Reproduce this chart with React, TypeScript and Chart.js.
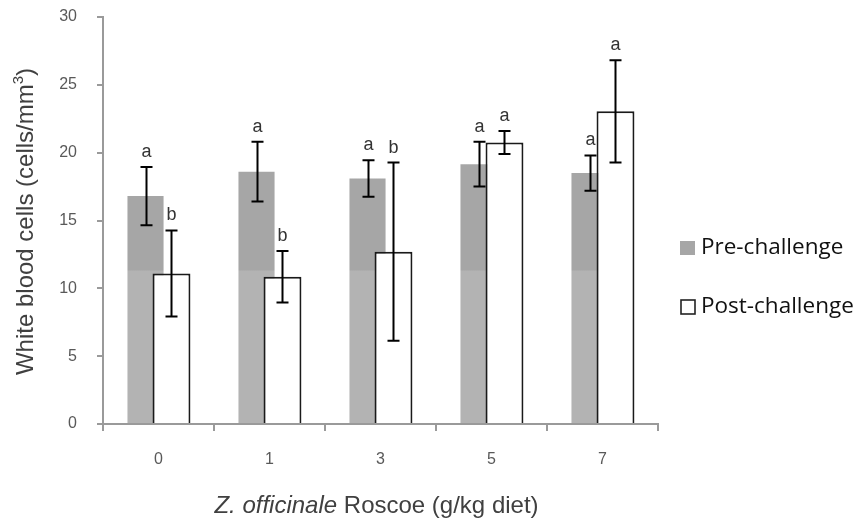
import React, { useEffect, useRef } from "react";
import { Chart, registerables } from "chart.js";

Chart.register(...registerables);

// ---- data ----
const categories = ["0", "1", "3", "5", "7"];
const seriesNames = ["Pre-challenge", "Post-challenge"];
const preValues = [16.8, 18.6, 18.1, 19.15, 18.5];
const preErrors = [2.15, 2.2, 1.35, 1.65, 1.3];
const postValues = [11.1, 10.85, 12.7, 20.75, 23.05];
const postErrors = [3.17, 1.9, 6.57, 0.85, 3.77];
const preLetters = ["a", "a", "a", "a", "a"];
const postLetters = ["b", "b", "b", "a", "a"];
const yTicks = [0, 5, 10, 15, 20, 25, 30];
const xTitleItalic = "Z. officinale";
const xTitleRest = " Roscoe (g/kg diet)";
const yTitleMain = "White blood cells (cells/mm";
const yTitleSup = "3";
const yTitleEnd = ")";

// ---- styles ----
const FONT = "'Liberation Sans', Arial, sans-serif";
const PRE_DARK = "#a6a6a6";
const PRE_LIGHT = "#b3b3b3";
const WATERMARK_CUT = 11.3; // value below which the background seal lightens the bars
const AXIS = "#9a9a9a";
const TICK_TEXT = "#595959";
const TITLE_TEXT = "#404040";

const errorPlugin = {
  id: "errAndLayers",
  beforeDatasetDraw(chart: any, args: any) {
    if (args.index === 1) return false;
  },
  afterDatasetsDraw(chart: any) {
    const ctx = chart.ctx;
    chart.getDatasetMeta(1).controller.draw();
    const y = chart.scales.y;
    const sets = [
      { vals: preValues, errs: preErrors, letters: preLetters },
      { vals: postValues, errs: postErrors, letters: postLetters },
    ];
    ctx.save();
    sets.forEach((s, di) => {
      const meta = chart.getDatasetMeta(di);
      meta.data.forEach((bar: any, i: number) => {
        const x = Math.round(bar.x) + 0.5;
        const top = y.getPixelForValue(s.vals[i] + s.errs[i]);
        const bot = y.getPixelForValue(s.vals[i] - s.errs[i]);
        ctx.strokeStyle = "#000";
        ctx.lineWidth = 2;
        ctx.beginPath();
        ctx.moveTo(x, top);
        ctx.lineTo(x, bot);
        ctx.moveTo(x - 6, top);
        ctx.lineTo(x + 6, top);
        ctx.moveTo(x - 6, bot);
        ctx.lineTo(x + 6, bot);
        ctx.stroke();
        ctx.fillStyle = "#333";
        ctx.font = `18px ${FONT}`;
        ctx.textAlign = "center";
        ctx.textBaseline = "alphabetic";
        ctx.fillText(s.letters[i], x, top - 10);
      });
    });
    ctx.restore();
  },
  afterDraw(chart: any) {
    const ctx = chart.ctx;
    const area = chart.chartArea;
    ctx.save();
    // x title
    ctx.fillStyle = TITLE_TEXT;
    ctx.textBaseline = "alphabetic";
    ctx.textAlign = "left";
    ctx.font = `italic 24px ${FONT}`;
    const w1 = ctx.measureText(xTitleItalic).width;
    ctx.font = `24px ${FONT}`;
    const w2 = ctx.measureText(xTitleRest).width;
    const cx = (area.left + area.right) / 2 - 4;
    let sx = cx - (w1 + w2) / 2;
    ctx.font = `italic 24px ${FONT}`;
    ctx.fillText(xTitleItalic, sx, 513);
    ctx.font = `24px ${FONT}`;
    ctx.fillText(xTitleRest, sx + w1, 513);

    // y title (rotated)
    ctx.font = `24px ${FONT}`;
    const m1 = ctx.measureText(yTitleMain).width;
    const m3 = ctx.measureText(yTitleEnd).width;
    ctx.font = `15px ${FONT}`;
    const m2 = ctx.measureText(yTitleSup).width;
    const total = m1 + m2 + m3;
    const cy = (area.top + area.bottom) / 2 + 1;
    ctx.translate(33, cy);
    ctx.rotate(-Math.PI / 2);
    let tx = -total / 2;
    ctx.font = `24px ${FONT}`;
    ctx.fillText(yTitleMain, tx, 0);
    ctx.font = `15px ${FONT}`;
    ctx.fillText(yTitleSup, tx + m1, -10);
    ctx.font = `24px ${FONT}`;
    ctx.fillText(yTitleEnd, tx + m1 + m2, 0);
    ctx.restore();

    // legend
    ctx.save();
    const items = [
      { label: chart.data.datasets[0].label, fill: PRE_DARK, stroke: null, y: 248 },
      { label: chart.data.datasets[1].label, fill: "#fff", stroke: "#222", y: 307 },
    ];
    items.forEach((it) => {
      if (it.stroke) {
        ctx.fillStyle = it.fill;
        ctx.fillRect(681, it.y - 7, 14, 14);
        ctx.strokeStyle = it.stroke;
        ctx.lineWidth = 1.6;
        ctx.strokeRect(681, it.y - 7, 14, 14);
      } else {
        ctx.fillStyle = it.fill;
        ctx.fillRect(680, it.y - 7, 15, 14);
      }
      ctx.fillStyle = "#111";
      ctx.font = `22.5px 'Open Sans', sans-serif`;
      ctx.textAlign = "left";
      ctx.textBaseline = "middle";
      ctx.fillText(it.label, 701, it.y);
    });
    ctx.restore();
  },
};

function preFill(c: any) {
  const chart = c.chart;
  const area = chart.chartArea;
  if (!area) return PRE_DARK;
  const y = chart.scales.y;
  const cut = y.getPixelForValue(WATERMARK_CUT);
  const g = chart.ctx.createLinearGradient(0, area.bottom, 0, area.top);
  const f = (area.bottom - cut) / (area.bottom - area.top);
  g.addColorStop(0, PRE_LIGHT);
  g.addColorStop(f, PRE_LIGHT);
  g.addColorStop(Math.min(1, f + 0.001), PRE_DARK);
  g.addColorStop(1, PRE_DARK);
  return g;
}

export default function App() {
  const ref = useRef<HTMLCanvasElement | null>(null);
  useEffect(() => {
    if (!ref.current) return;
    const chart = new Chart(ref.current, {
      type: "bar",
      data: {
        labels: categories,
        datasets: [
          {
            label: seriesNames[0],
            data: preValues,
            backgroundColor: preFill,
            borderWidth: 0,
            barPercentage: 1.39,
            categoryPercentage: 0.468,
          },
          {
            label: seriesNames[1],
            data: postValues,
            backgroundColor: "#ffffff",
            borderColor: "#1a1a1a",
            borderWidth: 2,
            barPercentage: 1.46,
            categoryPercentage: 0.468,
          },
        ],
      },
      options: {
        animation: false,
        responsive: false,
        events: [],
        layout: { padding: { left: 0, right: 204, top: 17, bottom: 0 } },
        plugins: {
          legend: { display: false },
          tooltip: { enabled: false },
          title: { display: false },
        },
        scales: {
          x: {
            type: "category",
            grid: {
              display: true,
              drawOnChartArea: false,
              drawTicks: true,
              tickLength: 7,
              color: AXIS,
              lineWidth: 2,
              offset: true,
            },
            border: { display: true, color: AXIS, width: 2 },
            ticks: { font: { family: FONT, size: 16 }, color: TICK_TEXT, padding: 19 },
            afterFit: (s: any) => {
              s.height = 97;
              s.paddingLeft = 0;
              s.paddingRight = 0;
            },
          },
          y: {
            min: 0,
            max: 30,
            grid: {
              display: true,
              drawOnChartArea: false,
              drawTicks: true,
              tickLength: 6,
              color: AXIS,
              lineWidth: 2,
            },
            border: { display: true, color: AXIS, width: 2 },
            ticks: { font: { family: FONT, size: 16 }, color: TICK_TEXT, padding: 20 },
            afterBuildTicks: (s: any) => {
              s.ticks = yTicks.map((v) => ({ value: v }));
            },
            afterFit: (s: any) => {
              s.width = 103;
              s.paddingTop = 0;
              s.paddingBottom = 0;
            },
          },
        },
      },
      plugins: [errorPlugin],
    });
    return () => chart.destroy();
  }, []);
  return (
    <div style={{ position: "fixed", left: 0, top: 0, width: 862, height: 521, background: "#fff" }}>
      <canvas ref={ref} width={862} height={521} />
    </div>
  );
}
